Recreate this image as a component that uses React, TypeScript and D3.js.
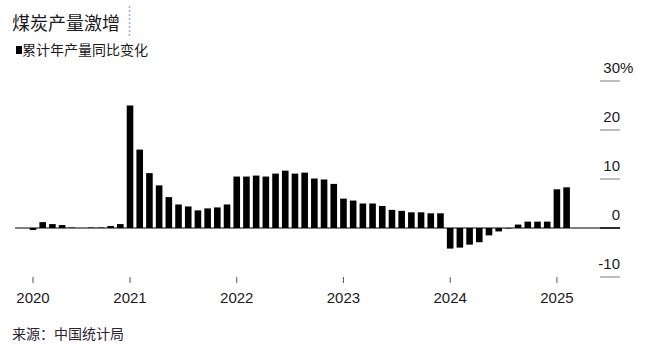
import React, { useEffect, useRef } from 'react';
import * as d3 from 'd3';

// 每年的月份（1-2月合并发布）
const years = ['2020', '2021', '2022', '2023', '2024', '2025'];
const months2020 = ['03', '04', '05', '06', '07', '08', '09', '10', '11', '12'];
const monthsFull = ['02', '03', '04', '05', '06', '07', '08', '09', '10', '11', '12'];
const months2025 = ['02', '03'];

// 累计产量同比 %
const values2020 = [-0.4, 1.2, 0.8, 0.6, 0.1, 0.0, 0.1, 0.1, 0.4, 0.8];
const values2021 = [25.0, 16.0, 11.2, 8.7, 6.3, 4.8, 4.4, 3.6, 4.0, 4.2, 4.8];
const values2022 = [10.5, 10.5, 10.7, 10.5, 11.1, 11.7, 11.1, 11.3, 10.1, 9.9, 9.0];
const values2023 = [6.0, 5.6, 5.0, 5.0, 4.5, 3.7, 3.5, 3.2, 3.2, 3.0, 3.0];
const values2024 = [-4.2, -4.0, -3.4, -2.9, -1.5, -0.7, -0.1, 0.7, 1.3, 1.3, 1.3];
const values2025 = [7.9, 8.3];

const yTicks = [-10, 0, 10, 20, 30];

const title = '煤炭产量激增';
const subtitle = '累计年产量同比变化';
const source = '来源：中国统计局';

function buildData() {
  const monthsByYear = [months2020, monthsFull, monthsFull, monthsFull, monthsFull, months2025];
  const valuesByYear = [values2020, values2021, values2022, values2023, values2024, values2025];
  const data = [];
  years.forEach((y, i) => {
    monthsByYear[i].forEach((m, j) => {
      data.push({ key: `${y}-${m}`, year: y, value: valuesByYear[i][j] });
    });
  });
  return data;
}

export default function App() {
  const ref = useRef(null);

  useEffect(() => {
    draw();
    // eslint-disable-next-line react-hooks/exhaustive-deps
  }, []);

  function draw() {
    const data = buildData();
    const svg = d3.select(ref.current);
    svg.selectAll('*').remove();
    const latin = 'Liberation Sans, Arial, sans-serif';
    const cjk = 'Noto Sans CJK SC, sans-serif';

    const xScale = d3
      .scaleBand()
      .domain(data.map((d) => d.key))
      .range([26.6, 573])
      .padding(0.32);
    const yScale = d3.scaleLinear().domain([-10, 30]).range([277, 81]);

    // 标题
    svg.append('text').text(title).attr('x', 12).attr('y', 30)
      .attr('font-family', cjk).attr('font-size', 18).attr('fill', '#1a1a1a');
    svg.append('line').attr('x1', 129.5).attr('x2', 129.5).attr('y1', 6).attr('y2', 38)
      .attr('stroke', '#8fb3d9').attr('stroke-width', 1.5).attr('stroke-dasharray', '2,2');
    svg.append('rect').attr('x', 16).attr('y', 46).attr('width', 6).attr('height', 8).attr('fill', '#000');
    svg.append('text').text(subtitle).attr('x', 22).attr('y', 55)
      .attr('font-family', cjk).attr('font-size', 14).attr('fill', '#1a1a1a');

    // y 轴
    const yAxis = svg.append('g').attr('class', 'y-axis');
    yTicks.forEach((t) => {
      const y = yScale(t);
      yAxis.append('line').attr('x1', 600).attr('x2', 620).attr('y1', y).attr('y2', y)
        .attr('stroke', t === 0 ? '#000' : '#999').attr('stroke-width', 1.3);
      yAxis.append('text').text(t).attr('x', 620).attr('y', y - 8)
        .attr('text-anchor', 'end').attr('font-family', latin).attr('font-size', 15).attr('fill', '#1a1a1a');
      if (t === 30) {
        yAxis.append('text').text('%').attr('x', 620).attr('y', y - 8)
          .attr('font-family', latin).attr('font-size', 15).attr('fill', '#1a1a1a');
      }
    });

    // 零线
    svg.append('line').attr('x1', 15).attr('x2', 620).attr('y1', yScale(0)).attr('y2', yScale(0))
      .attr('stroke', '#000').attr('stroke-width', 1);

    // 柱
    svg.append('g').selectAll('rect')
      .data(data)
      .enter()
      .append('rect')
      .attr('x', (d) => xScale(d.key))
      .attr('width', xScale.bandwidth())
      .attr('y', (d) => yScale(Math.max(0, d.value)))
      .attr('height', (d) => Math.abs(yScale(d.value) - yScale(0)))
      .attr('fill', '#000');

    // x 轴
    const firstKeys = years.map((y) => data.find((d) => d.year === y).key);
    const xAxis = d3.axisBottom(xScale).tickValues(firstKeys).tickSize(6).tickFormat((k) => k.slice(0, 4));
    const gx = svg.append('g').attr('class', 'x-axis').attr('transform', 'translate(0, 277)').call(xAxis);
    gx.select('.domain').remove();
    gx.selectAll('line').attr('stroke', '#555');
    gx.selectAll('text').attr('y', 25.5).attr('dy', null)
      .attr('font-family', latin).attr('font-size', 15).attr('fill', '#1a1a1a');

    // 来源
    svg.append('text').text(source).attr('x', 12).attr('y', 339)
      .attr('font-family', cjk).attr('font-size', 14).attr('fill', '#2a2230');
  }

  return (
    <div style={{ position: 'absolute', left: 0, top: 0 }}>
      <svg ref={ref} width={655} height={351} style={{ display: 'block', background: '#fff' }} />
    </div>
  );
}
